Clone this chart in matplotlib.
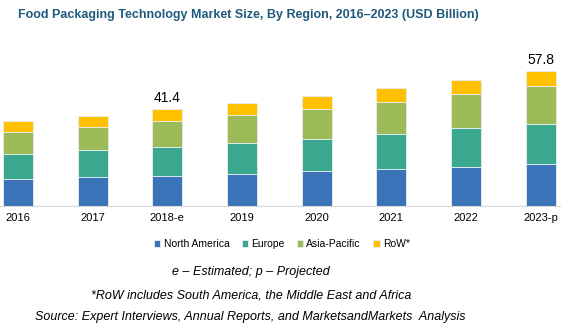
import numpy as np
import matplotlib.pyplot as plt

# datos
years = ["2016", "2017", "2018-e", "2019", "2020", "2021", "2022", "2023-p"]
north_america = [11.4, 12.3, 13.0, 13.9, 15.1, 15.7, 16.9, 18.2]
europe = [11.0, 11.6, 12.4, 12.9, 13.7, 15.1, 16.4, 17.1]
asia_pacific = [9.4, 10.1, 11.2, 12.3, 12.9, 13.9, 14.6, 16.2]
row = [4.6, 4.7, 4.8, 5.0, 5.4, 5.7, 6.1, 6.3]
labels_top = {2: "41.4", 7: "57.8"}

series = [north_america, europe, asia_pacific, row]
names = ["North America", "Europe", "Asia-Pacific", "RoW*"]
colors = ["#3A73B8", "#3AA78F", "#9BBB59", "#FFC000"]

plt.rcParams["font.family"] = ["Liberation Sans", "DejaVu Sans"]

fig = plt.figure(figsize=(5.61, 3.32), dpi=100)
ax = fig.add_axes([0, 0.3795, 560 / 561, 0.4398])

x = np.arange(len(years))
bottom = np.zeros(len(years))
for vals, name, col in zip(series, names, colors):
    ax.bar(x, vals, 0.4, bottom=bottom, color=col, label=name,
           edgecolor="#E8EEF4", linewidth=0.6)
    bottom = bottom + np.array(vals)

# totales sobre algunas barras
for i, txt in labels_top.items():
    ax.text(x[i], bottom[i] + 2.0, txt, ha="center", va="bottom", fontsize=10)

ax.set_xlim(-0.24, 7.26)
ax.set_ylim(0, 62.6)
ax.set_xticks(x)
ax.set_xticklabels(years, fontsize=8)
ax.tick_params(axis="x", length=0, pad=5)
ax.set_yticks([])
for s in ["top", "right", "left"]:
    ax.spines[s].set_visible(False)
ax.spines["bottom"].set_color("#D9D9D9")

fig.text(18 / 561, 1 - 15 / 332, "Food Packaging Technology Market Size, By Region, 2016\u20132023 (USD Billion)",
         fontsize=9, fontweight="bold", color="#1F5A7C", va="center")

ax.legend(loc="center", bbox_to_anchor=(282 / 560, -0.26), ncol=4, frameon=False,
          fontsize=7.5, handlelength=0.6, handleheight=0.6, handletextpad=0.3,
          columnspacing=1.2)

fig.text(251 / 561, 1 - 272 / 332, "e \u2013 Estimated; p \u2013 Projected",
         ha="center", va="center", fontsize=9, style="italic")
fig.text(251 / 561, 1 - 295 / 332, "*RoW includes South America, the Middle East and Africa",
         ha="center", va="center", fontsize=9, style="italic")
fig.text(250 / 561, 1 - 317 / 332, "Source: Expert Interviews, Annual Reports, and MarketsandMarkets  Analysis",
         ha="center", va="center", fontsize=9, style="italic")

fig.savefig("out.png", dpi=100)
